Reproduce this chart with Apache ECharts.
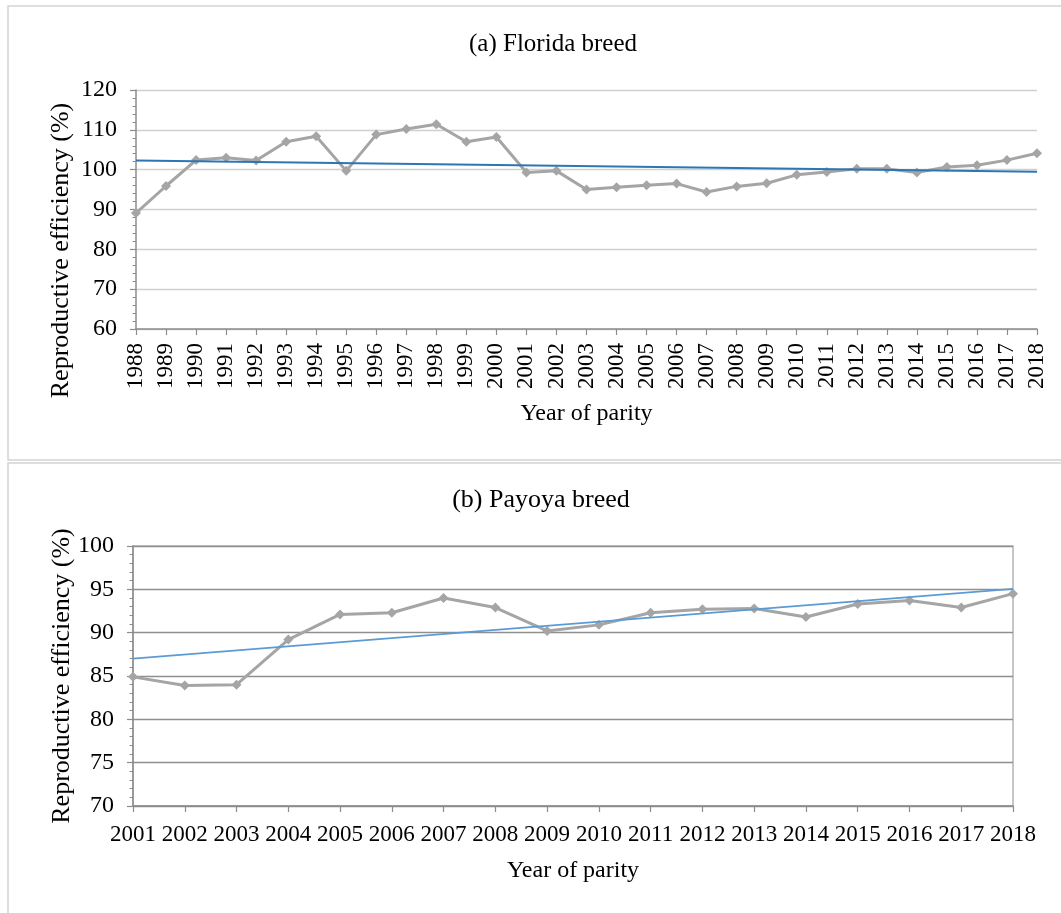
<!DOCTYPE html>
<html>
<head>
<meta charset="utf-8">
<script src="https://cdn.jsdelivr.net/npm/echarts@6/dist/echarts.min.js"></script>
<style>
  html, body { margin: 0; padding: 0; background: #fff; }
  #chart { width: 1061px; height: 913px; }
</style>
</head>
<body>
<div id="chart"></div>
<script>
// Florida breed: reproductive efficiency by year of parity
const yearsFlorida = ['1988','1989','1990','1991','1992','1993','1994','1995','1996','1997','1998',
  '1999','2000','2001','2002','2003','2004','2005','2006','2007','2008','2009','2010','2011',
  '2012','2013','2014','2015','2016','2017','2018'];
const effFlorida = [89.1, 95.9, 102.4, 103.0, 102.3, 107.0, 108.4, 99.7, 108.8, 110.2, 111.4,
  107.0, 108.2, 99.3, 99.7, 95.0, 95.6, 96.1, 96.5, 94.4, 95.8, 96.6, 98.7, 99.4,
  100.2, 100.2, 99.3, 100.7, 101.1, 102.4, 104.1];
// linear trend, values at first and last year
const trendFlorida = [102.3, 99.5];

// Payoya breed
const yearsPayoya = ['2001','2002','2003','2004','2005','2006','2007','2008','2009','2010',
  '2011','2012','2013','2014','2015','2016','2017','2018'];
const effPayoya = [84.9, 83.9, 84.0, 89.2, 92.1, 92.3, 94.0, 92.9, 90.2, 90.9,
  92.3, 92.7, 92.8, 91.8, 93.3, 93.7, 92.9, 94.5];
const trendPayoya = [87.0, 95.05];

const FONT = "'Liberation Serif', 'Times New Roman', serif";
const AXIS_GRAY = '#8c8c8c';

const chart = echarts.init(document.getElementById('chart'), null, { renderer: 'canvas' });

function yAxisCfg(gridIndex, min, max, interval, splitColor, nameGap, namePadding) {
  return {
    type: 'value', gridIndex, min, max, interval,
    name: 'Reproductive efficiency (%)',
    nameLocation: 'middle',
    nameGap,
    nameMoveOverlap: false,
    nameTextStyle: { fontFamily: FONT, fontSize: 26, color: '#000', padding: namePadding },
    axisLine: { show: true, lineStyle: { color: AXIS_GRAY, width: 1.5 } },
    axisTick: { show: true, inside: false, length: 6, lineStyle: { color: AXIS_GRAY, width: 1.2 } },
    minorTick: { show: true, splitNumber: 5, length: 3.5, lineStyle: { color: AXIS_GRAY, width: 1 } },
    axisLabel: { fontFamily: FONT, fontSize: 24, color: '#000', margin: 19 },
    splitLine: { show: true, lineStyle: { color: splitColor, width: 1.3 } }
  };
}

function xAxisCfg(gridIndex, cats, rotate, labelMargin, nameGap) {
  return {
    type: 'category', gridIndex, data: cats, boundaryGap: false,
    name: 'Year of parity',
    nameLocation: 'middle',
    nameGap,
    nameTextStyle: { fontFamily: FONT, fontSize: 24, color: '#000' },
    axisLine: { show: true, onZero: false, lineStyle: { color: AXIS_GRAY, width: 1.5 } },
    axisTick: { show: true, alignWithLabel: true, length: 6, lineStyle: { color: AXIS_GRAY, width: 1.2 } },
    axisLabel: { fontFamily: FONT, fontSize: 23, color: '#000', rotate, margin: labelMargin, interval: 0 },
    splitLine: { show: false }
  };
}

function dataSeries(xi, values) {
  return {
    type: 'line', xAxisIndex: xi, yAxisIndex: xi, data: values,
    symbol: 'diamond', symbolSize: 10, showSymbol: true,
    lineStyle: { color: '#a5a5a5', width: 3 },
    itemStyle: { color: '#a5a5a5' },
    silent: true, z: 3
  };
}

function trendSeries(xi, cats, ends, color, width) {
  return {
    type: 'line', xAxisIndex: xi, yAxisIndex: xi,
    data: [[cats[0], ends[0]], [cats[cats.length - 1], ends[1]]],
    symbol: 'none',
    lineStyle: { color, width },
    silent: true, z: 4
  };
}

chart.setOption({
  animation: false,
  backgroundColor: '#fff',
  textStyle: { fontFamily: FONT },
  title: [
    { text: '(a) Florida breed', left: 548, top: 27, textAlign: 'center',
      textStyle: { fontFamily: FONT, fontSize: 25, fontWeight: 'normal', color: '#000' } },
    { text: '(b) Payoya breed', left: 536, top: 482, textAlign: 'center',
      textStyle: { fontFamily: FONT, fontSize: 26, fontWeight: 'normal', color: '#000' } }
  ],
  graphic: [
    { type: 'rect', shape: { x: 8, y: 6, width: 1100, height: 454 },
      style: { fill: 'none', stroke: '#d4d4d4', lineWidth: 1.5 }, silent: true },
    { type: 'rect', shape: { x: 8, y: 463, width: 1100, height: 500 },
      style: { fill: 'none', stroke: '#d4d4d4', lineWidth: 1.5 }, silent: true }
  ],
  grid: [
    { left: 136, right: 24, top: 90, height: 239, containLabel: false },
    { left: 133, right: 48, top: 546, height: 260, containLabel: false,
      show: true, borderColor: '#b4b4b4', borderWidth: 1.5, backgroundColor: 'transparent' }
  ],
  xAxis: [
    xAxisCfg(0, yearsFlorida, 90, 14, 73),
    xAxisCfg(1, yearsPayoya, 0, 17, 53)
  ],
  yAxis: [
    yAxisCfg(0, 60, 120, 10, '#d0d0d0', 62, [0, 82, 0, 0]),
    yAxisCfg(1, 70, 100, 5, '#8f8f8f', 58, 0)
  ],
  series: [
    dataSeries(0, effFlorida),
    trendSeries(0, yearsFlorida, trendFlorida, '#2e75b6', 2),
    dataSeries(1, effPayoya),
    trendSeries(1, yearsPayoya, trendPayoya, '#5b9bd5', 1.8)
  ]
});
</script>
</body>
</html>
